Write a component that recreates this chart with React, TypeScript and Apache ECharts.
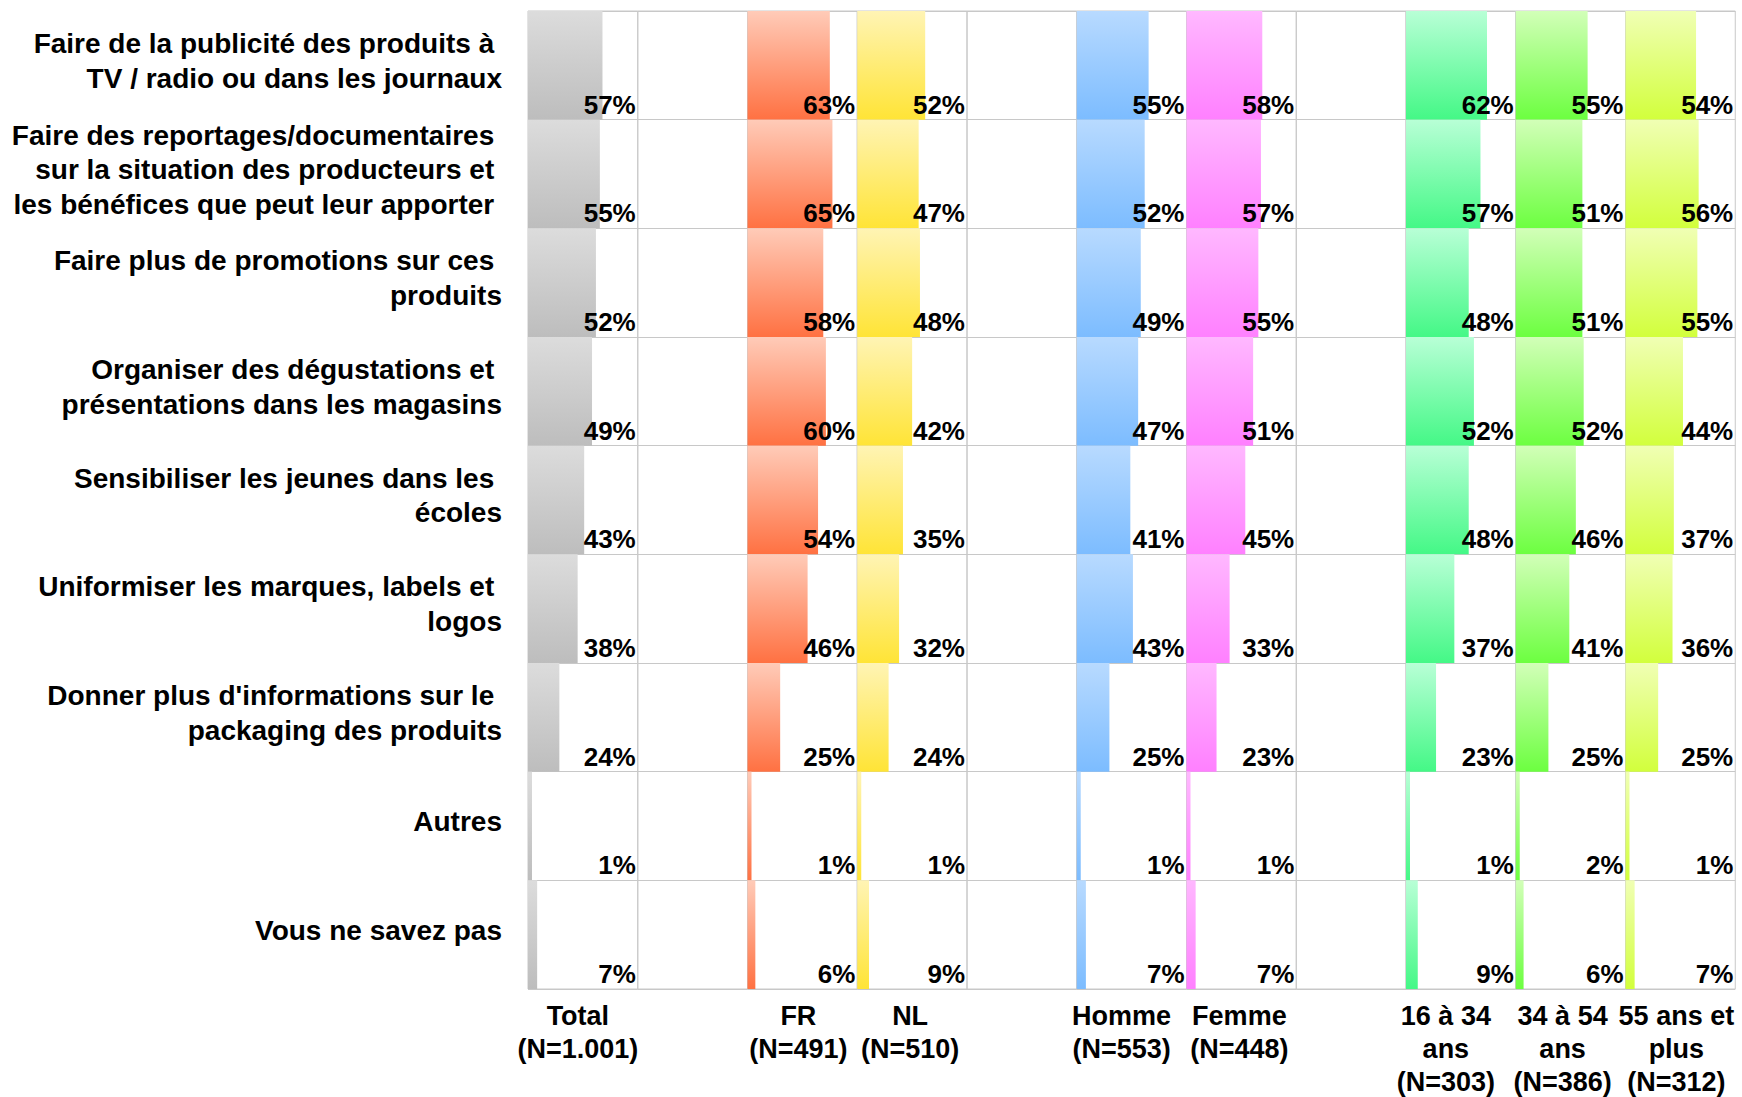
import React, { useEffect, useRef } from "react";
import * as echarts from "echarts";

const rowLabels = [
  "Faire de la publicité des produits à \nTV / radio ou dans les journaux",
  "Faire des reportages/documentaires \nsur la situation des producteurs et \nles bénéfices que peut leur apporter ",
  "Faire plus de promotions sur ces \nproduits",
  "Organiser des dégustations et \nprésentations dans les magasins",
  "Sensibiliser les jeunes dans les \nécoles",
  "Uniformiser les marques, labels et \nlogos",
  "Donner plus d'informations sur le \npackaging des produits",
  "Autres",
  "Vous ne savez pas",
];

const groupLabels = [
  "Total\n(N=1.001)",
  "FR\n(N=491)",
  "NL\n(N=510)",
  "Homme\n(N=553)",
  "Femme\n(N=448)",
  "16 à 34\nans\n(N=303)",
  "34 à 54\nans\n(N=386)",
  "55 ans et\nplus\n(N=312)",
];

const total = [57, 55, 52, 49, 43, 38, 24, 1, 7];
const fr = [63, 65, 58, 60, 54, 46, 25, 1, 6];
const nl = [52, 47, 48, 42, 35, 32, 24, 1, 9];
const homme = [55, 52, 49, 47, 41, 43, 25, 1, 7];
const femme = [58, 57, 55, 51, 45, 33, 23, 1, 7];
const age1634 = [62, 57, 48, 52, 48, 37, 23, 1, 9];
const age3454 = [55, 51, 51, 52, 46, 41, 25, 2, 6];
const age55 = [54, 56, 55, 44, 37, 36, 25, 1, 7];

const seriesValues = [total, fr, nl, homme, femme, age1634, age3454, age55];

// layout / style
const slots = [0, 2, 3, 5, 6, 8, 9, 10];
const nameShift = [-5, -4, -2, -10, -2, -15, -8, -4];
const gradients: [string, string][] = [
  ["#dcdcdc", "#bdbdbd"],
  ["#ffcbb8", "#ff7142"],
  ["#fff4b4", "#ffe436"],
  ["#b8daff", "#7cbcff"],
  ["#ffb8ff", "#ff80ff"],
  ["#b8ffd6", "#44f886"],
  ["#d2ffb8", "#6cff40"],
  ["#f0ffb4", "#d2ff3c"],
];

const AXIS_MAX = 84;
const GRID_LEFT = 528;
const GRID_TOP = 11;
const GRID_H = 978;
const CW = 109.75;
const FONT = "Liberation Sans, Arial, Helvetica, sans-serif";
const LINE = "#c8c8c8";

export default function App() {
  const ref = useRef<HTMLDivElement>(null);

  useEffect(() => {
    if (!ref.current) return;
    const chart = echarts.init(ref.current, undefined, { renderer: "svg" });

    const grids: any[] = [];
    const xAxes: any[] = [];
    const yAxes: any[] = [];
    for (let s = 0; s < 11; s++) {
      const k = slots.indexOf(s);
      grids.push({
        left: GRID_LEFT + s * CW,
        top: GRID_TOP,
        width: CW,
        height: GRID_H,
        show: true,
        borderColor: LINE,
        borderWidth: 1,
        backgroundColor: "transparent",
        containLabel: false,
        outerBoundsMode: "none",
      });
      xAxes.push({
        gridIndex: s,
        type: "value",
        min: 0,
        max: AXIS_MAX,
        axisLabel: { show: false },
        axisLine: { show: false },
        axisTick: { show: false },
        splitLine: { show: false },
        name: k >= 0 ? groupLabels[k] : "",
        nameLocation: "middle",
        nameGap: 10,
        nameTextStyle: {
          fontFamily: FONT,
          fontWeight: "bold",
          fontSize: 27,
          lineHeight: 33,
          color: "#000",
          align: "center",
          padding: k >= 0 && nameShift[k] < 0 ? [0, -2 * nameShift[k], 0, 0] : 0,
        },
      });
      yAxes.push({
        gridIndex: s,
        type: "category",
        inverse: true,
        data: rowLabels,
        axisLine: { show: false },
        axisTick: { show: false },
        splitLine: { show: true, interval: 0, lineStyle: { color: LINE, width: 1 } },
        axisLabel:
          s === 0
            ? {
                show: true,
                interval: 0,
                margin: 26,
                fontFamily: FONT,
                fontWeight: "bold",
                fontSize: 28,
                lineHeight: 34.5,
                color: "#000",
                align: "right",
                formatter: (v: string) => `{t|${v}}\n{p| }`,
                rich: {
                  t: {
                    fontFamily: FONT,
                    fontWeight: "bold",
                    fontSize: 28,
                    lineHeight: 34.5,
                    color: "#000",
                    align: "right",
                  },
                  p: { fontSize: 2, lineHeight: 9, align: "right" },
                },
              }
            : { show: false },
      });
    }

    const series: any[] = [];
    seriesValues.forEach((vals, k) => {
      const s = slots[k];
      series.push({
        type: "bar",
        xAxisIndex: s,
        yAxisIndex: s,
        data: vals,
        barWidth: "100%",
        barGap: "-100%",
        barMinHeight: 4,
        silent: true,
        itemStyle: {
          color: new echarts.graphic.LinearGradient(0, 0, 0, 1, [
            { offset: 0, color: gradients[k][0] },
            { offset: 1, color: gradients[k][1] },
          ]),
        },
      });
      series.push({
        type: "bar",
        xAxisIndex: s,
        yAxisIndex: s,
        data: vals.map(() => AXIS_MAX),
        barWidth: "100%",
        barGap: "-100%",
        silent: true,
        z: 5,
        itemStyle: { color: "rgba(0,0,0,0)" },
        label: {
          show: true,
          position: "insideBottomRight",
          distance: 2,
          formatter: (p: any) => `${vals[p.dataIndex]}%`,
          fontFamily: FONT,
          fontWeight: "bold",
          fontSize: 26,
          color: "#000",
        },
      });
    });

    chart.setOption({
      animation: false,
      backgroundColor: "#ffffff",
      grid: grids,
      xAxis: xAxes,
      yAxis: yAxes,
      series,
    });

    return () => chart.dispose();
  }, []);

  return (
    <div
      ref={ref}
      style={{ position: "fixed", left: 0, top: 0, width: 1742, height: 1097 }}
    />
  );
}
